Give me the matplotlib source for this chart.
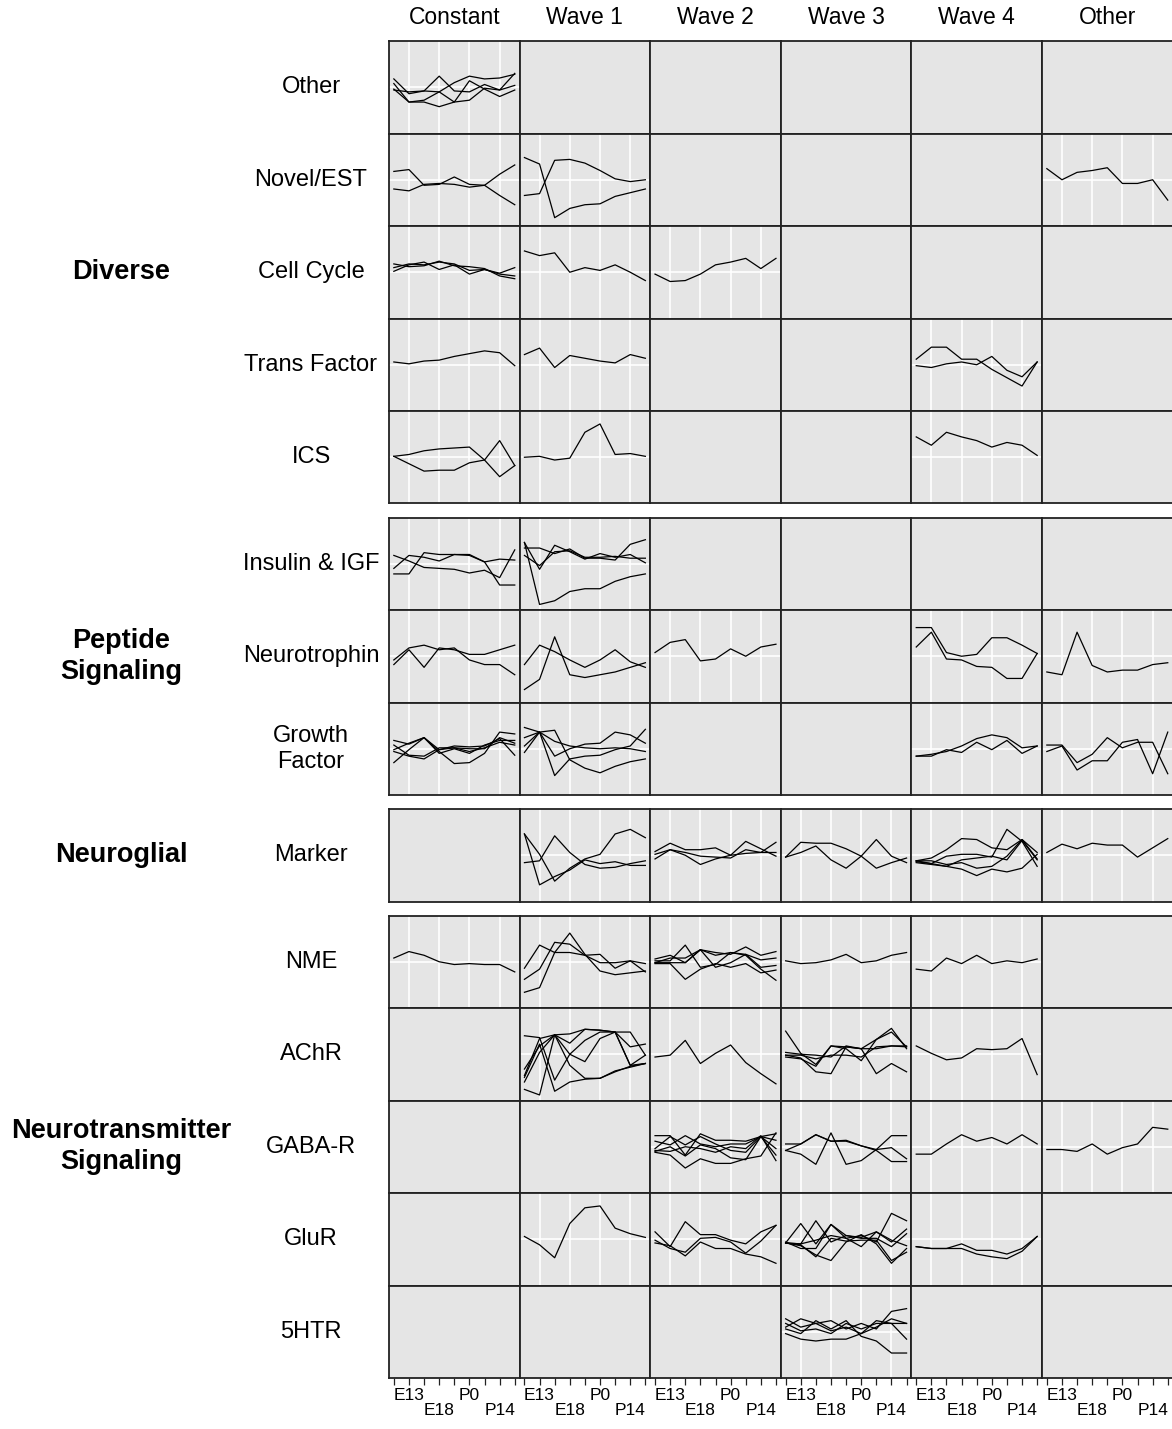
import matplotlib.pyplot as plt

plt.rcParams['font.family'] = ['Liberation Sans', 'DejaVu Sans']

# time course and layout labels
time_points = ['E11', 'E13', 'E15', 'E18', 'E21', 'P0', 'P7', 'P14', 'A']
shown_labels = ['', 'E13', '', 'E18', '', 'P0', '', 'P14', '']
waves = ['Constant', 'Wave 1', 'Wave 2', 'Wave 3', 'Wave 4', 'Other']
groups = ['Diverse', 'Peptide\nSignaling', 'Neuroglial', 'Neurotransmitter\nSignaling']
families = [['Other', 'Novel/EST', 'Cell Cycle', 'Trans Factor', 'ICS'],
            ['Insulin & IGF', 'Neurotrophin', 'Growth\nFactor'],
            ['Marker'],
            ['NME', 'AChR', 'GABA-R', 'GluR', '5HTR']]

# normalised expression profiles, one list per gene
oth_constant = [[0.59, 0.43, 0.46, 0.62, 0.46, 0.45, 0.53, 0.47, 0.65],
                [0.48, 0.34, 0.36, 0.45, 0.34, 0.57, 0.48, 0.40, 0.47],
                [0.54, 0.34, 0.34, 0.29, 0.34, 0.36, 0.49, 0.47, 0.52],
                [0.47, 0.45, 0.46, 0.45, 0.55, 0.62, 0.59, 0.60, 0.64]]

novel_constant = [[0.59, 0.61, 0.44, 0.45, 0.53, 0.45, 0.44, 0.56, 0.66],
                  [0.40, 0.38, 0.45, 0.46, 0.45, 0.42, 0.44, 0.33, 0.23]]
novel_wave1 = [[0.74, 0.67, 0.09, 0.19, 0.23, 0.24, 0.32, 0.36, 0.40],
               [0.33, 0.35, 0.71, 0.72, 0.68, 0.60, 0.51, 0.48, 0.50]]
novel_other = [[0.62, 0.50, 0.58, 0.60, 0.63, 0.46, 0.46, 0.50, 0.28]]

cycle_constant = [[0.59, 0.56, 0.57, 0.62, 0.57, 0.56, 0.54, 0.46, 0.43],
                  [0.51, 0.58, 0.61, 0.53, 0.58, 0.48, 0.53, 0.49, 0.55],
                  [0.55, 0.59, 0.58, 0.61, 0.59, 0.52, 0.53, 0.48, 0.46]]
cycle_wave1 = [[0.73, 0.68, 0.71, 0.50, 0.55, 0.52, 0.58, 0.50, 0.41]]
cycle_wave2 = [[0.48, 0.40, 0.41, 0.48, 0.58, 0.61, 0.65, 0.54, 0.65]]

trans_constant = [[0.53, 0.51, 0.54, 0.55, 0.59, 0.62, 0.65, 0.63, 0.49]]
trans_wave1 = [[0.61, 0.68, 0.47, 0.60, 0.57, 0.54, 0.52, 0.61, 0.57]]
trans_wave4 = [[0.56, 0.69, 0.69, 0.56, 0.56, 0.45, 0.36, 0.27, 0.53],
               [0.49, 0.47, 0.51, 0.53, 0.50, 0.59, 0.44, 0.37, 0.53]]

ics_constant = [[0.51, 0.53, 0.57, 0.59, 0.60, 0.61, 0.47, 0.68, 0.41],
                [0.51, 0.43, 0.35, 0.36, 0.36, 0.44, 0.47, 0.29, 0.41]]
ics_wave1 = [[0.50, 0.51, 0.47, 0.49, 0.77, 0.86, 0.53, 0.54, 0.51]]
ics_wave4 = [[0.72, 0.63, 0.77, 0.72, 0.68, 0.61, 0.66, 0.63, 0.52]]

insulin_constant = [[0.59, 0.53, 0.46, 0.45, 0.44, 0.40, 0.43, 0.35, 0.65],
                    [0.45, 0.59, 0.57, 0.53, 0.60, 0.60, 0.52, 0.27, 0.27],
                    [0.39, 0.39, 0.62, 0.60, 0.60, 0.59, 0.52, 0.55, 0.54]]
insulin_wave1 = [[0.73, 0.06, 0.10, 0.20, 0.23, 0.23, 0.31, 0.36, 0.39],
                 [0.67, 0.67, 0.61, 0.66, 0.56, 0.56, 0.54, 0.71, 0.76],
                 [0.73, 0.44, 0.70, 0.63, 0.55, 0.61, 0.57, 0.60, 0.51],
                 [0.59, 0.48, 0.63, 0.64, 0.57, 0.57, 0.58, 0.56, 0.56]]

neurotrophin_constant = [[0.41, 0.57, 0.38, 0.59, 0.57, 0.52, 0.52, 0.57, 0.62],
                         [0.46, 0.59, 0.62, 0.57, 0.59, 0.46, 0.41, 0.41, 0.30]]
neurotrophin_wave1 = [[0.41, 0.62, 0.55, 0.46, 0.38, 0.46, 0.57, 0.44, 0.38],
                      [0.14, 0.25, 0.71, 0.30, 0.27, 0.30, 0.33, 0.38, 0.43]]
neurotrophin_wave2 = [[0.54, 0.65, 0.68, 0.45, 0.47, 0.58, 0.50, 0.60, 0.63]]
neurotrophin_wave4 = [[0.81, 0.81, 0.54, 0.50, 0.52, 0.70, 0.70, 0.62, 0.53],
                      [0.60, 0.76, 0.47, 0.46, 0.39, 0.38, 0.26, 0.26, 0.53]]
neurotrophin_other = [[0.33, 0.30, 0.76, 0.40, 0.33, 0.35, 0.35, 0.41, 0.43]]

growth_constant = [[0.59, 0.55, 0.62, 0.47, 0.34, 0.35, 0.45, 0.68, 0.66],
                   [0.49, 0.56, 0.62, 0.49, 0.53, 0.52, 0.53, 0.61, 0.43],
                   [0.35, 0.49, 0.62, 0.45, 0.50, 0.45, 0.54, 0.59, 0.59],
                   [0.47, 0.42, 0.39, 0.49, 0.51, 0.47, 0.51, 0.57, 0.54],
                   [0.54, 0.43, 0.42, 0.51, 0.51, 0.50, 0.50, 0.62, 0.56]]
growth_wave1 = [[0.73, 0.68, 0.70, 0.38, 0.29, 0.24, 0.31, 0.36, 0.39],
                [0.62, 0.68, 0.42, 0.50, 0.55, 0.56, 0.68, 0.65, 0.56],
                [0.46, 0.68, 0.21, 0.39, 0.42, 0.43, 0.49, 0.53, 0.71],
                [0.53, 0.68, 0.58, 0.53, 0.51, 0.50, 0.51, 0.50, 0.47]]
growth_wave4 = [[0.42, 0.42, 0.49, 0.46, 0.57, 0.49, 0.59, 0.45, 0.53],
                [0.42, 0.44, 0.47, 0.53, 0.61, 0.65, 0.62, 0.51, 0.53]]
growth_other = [[0.54, 0.54, 0.35, 0.44, 0.62, 0.51, 0.57, 0.57, 0.23],
                [0.47, 0.53, 0.27, 0.37, 0.37, 0.57, 0.60, 0.23, 0.68]]

marker_wave1 = [[0.73, 0.51, 0.22, 0.36, 0.46, 0.51, 0.73, 0.78, 0.69],
                [0.42, 0.44, 0.71, 0.53, 0.40, 0.36, 0.37, 0.41, 0.44],
                [0.73, 0.18, 0.27, 0.34, 0.45, 0.41, 0.43, 0.39, 0.39]]
marker_wave2 = [[0.54, 0.63, 0.56, 0.56, 0.58, 0.50, 0.65, 0.57, 0.49],
                [0.46, 0.56, 0.50, 0.40, 0.46, 0.50, 0.52, 0.53, 0.64],
                [0.51, 0.56, 0.53, 0.49, 0.48, 0.47, 0.56, 0.53, 0.53]]
marker_wave3 = [[0.48, 0.64, 0.63, 0.63, 0.57, 0.49, 0.67, 0.49, 0.42],
                [0.48, 0.53, 0.60, 0.45, 0.36, 0.49, 0.36, 0.42, 0.47]]
marker_wave4 = [[0.44, 0.47, 0.56, 0.68, 0.67, 0.58, 0.56, 0.67, 0.46],
                [0.44, 0.41, 0.38, 0.35, 0.28, 0.35, 0.32, 0.36, 0.51],
                [0.43, 0.41, 0.49, 0.51, 0.51, 0.48, 0.78, 0.65, 0.38],
                [0.44, 0.44, 0.40, 0.42, 0.36, 0.38, 0.49, 0.67, 0.53],
                [0.42, 0.40, 0.38, 0.45, 0.47, 0.49, 0.45, 0.66, 0.45]]
marker_other = [[0.53, 0.62, 0.57, 0.63, 0.61, 0.61, 0.48, 0.58, 0.68]]

nme_constant = [[0.54, 0.61, 0.57, 0.50, 0.47, 0.48, 0.47, 0.47, 0.39]]
nme_wave1 = [[0.43, 0.68, 0.60, 0.60, 0.57, 0.49, 0.49, 0.51, 0.48],
             [0.31, 0.42, 0.71, 0.69, 0.57, 0.58, 0.43, 0.51, 0.39],
             [0.17, 0.22, 0.60, 0.81, 0.58, 0.40, 0.36, 0.38, 0.40]]
nme_wave2 = [[0.53, 0.57, 0.49, 0.63, 0.60, 0.58, 0.66, 0.57, 0.61],
             [0.51, 0.51, 0.68, 0.44, 0.47, 0.60, 0.58, 0.52, 0.54],
             [0.49, 0.49, 0.49, 0.63, 0.44, 0.49, 0.58, 0.44, 0.46],
             [0.48, 0.48, 0.31, 0.42, 0.48, 0.44, 0.48, 0.38, 0.41],
             [0.49, 0.54, 0.54, 0.63, 0.57, 0.60, 0.57, 0.42, 0.30]]
nme_wave3 = [[0.51, 0.48, 0.49, 0.52, 0.58, 0.49, 0.51, 0.57, 0.60]]
nme_wave4 = [[0.42, 0.40, 0.54, 0.48, 0.57, 0.48, 0.51, 0.49, 0.53]]

achr_wave1 = [[0.70, 0.68, 0.22, 0.50, 0.42, 0.67, 0.74, 0.38, 0.40],
              [0.34, 0.59, 0.71, 0.62, 0.77, 0.76, 0.74, 0.58, 0.61],
              [0.27, 0.67, 0.71, 0.72, 0.77, 0.76, 0.74, 0.74, 0.49],
              [0.20, 0.52, 0.71, 0.38, 0.24, 0.24, 0.32, 0.36, 0.40],
              [0.12, 0.06, 0.71, 0.50, 0.65, 0.74, 0.74, 0.38, 0.49],
              [0.25, 0.61, 0.10, 0.20, 0.23, 0.24, 0.31, 0.37, 0.40]]
achr_wave2 = [[0.47, 0.49, 0.65, 0.40, 0.51, 0.60, 0.41, 0.29, 0.18]]
achr_wave3 = [[0.75, 0.51, 0.39, 0.59, 0.58, 0.56, 0.66, 0.78, 0.56],
              [0.52, 0.50, 0.49, 0.47, 0.59, 0.56, 0.56, 0.59, 0.58],
              [0.49, 0.46, 0.31, 0.29, 0.58, 0.56, 0.29, 0.40, 0.31],
              [0.47, 0.45, 0.37, 0.59, 0.56, 0.43, 0.66, 0.74, 0.58],
              [0.49, 0.49, 0.45, 0.49, 0.49, 0.47, 0.58, 0.59, 0.59]]
achr_wave4 = [[0.59, 0.51, 0.44, 0.46, 0.56, 0.55, 0.56, 0.67, 0.28]]

gaba_wave2 = [[0.62, 0.62, 0.41, 0.64, 0.57, 0.57, 0.56, 0.61, 0.57],
              [0.56, 0.52, 0.62, 0.53, 0.50, 0.53, 0.53, 0.61, 0.48],
              [0.48, 0.61, 0.52, 0.61, 0.53, 0.46, 0.44, 0.61, 0.64],
              [0.46, 0.45, 0.50, 0.48, 0.44, 0.50, 0.48, 0.62, 0.35],
              [0.44, 0.41, 0.27, 0.37, 0.32, 0.32, 0.37, 0.40, 0.65],
              [0.45, 0.50, 0.40, 0.52, 0.48, 0.38, 0.36, 0.61, 0.41]]
gaba_wave3 = [[0.53, 0.53, 0.63, 0.56, 0.56, 0.51, 0.47, 0.49, 0.37],
              [0.46, 0.42, 0.31, 0.65, 0.31, 0.35, 0.47, 0.62, 0.62],
              [0.46, 0.53, 0.63, 0.56, 0.57, 0.51, 0.46, 0.34, 0.34]]
gaba_wave4 = [[0.42, 0.42, 0.53, 0.63, 0.56, 0.60, 0.53, 0.63, 0.53]]
gaba_other = [[0.47, 0.47, 0.45, 0.53, 0.42, 0.49, 0.53, 0.71, 0.69]]

glur_wave1 = [[0.53, 0.44, 0.30, 0.67, 0.84, 0.86, 0.62, 0.56, 0.52]]
glur_wave2 = [[0.58, 0.42, 0.69, 0.55, 0.55, 0.49, 0.45, 0.58, 0.65],
              [0.49, 0.40, 0.36, 0.51, 0.52, 0.47, 0.35, 0.48, 0.65],
              [0.46, 0.43, 0.32, 0.47, 0.40, 0.40, 0.34, 0.31, 0.24]]
glur_wave3 = [[0.46, 0.67, 0.45, 0.66, 0.51, 0.54, 0.47, 0.78, 0.70],
              [0.46, 0.45, 0.70, 0.47, 0.54, 0.51, 0.51, 0.42, 0.56],
              [0.46, 0.44, 0.31, 0.51, 0.48, 0.49, 0.49, 0.27, 0.36],
              [0.47, 0.40, 0.40, 0.66, 0.54, 0.52, 0.58, 0.47, 0.61],
              [0.46, 0.43, 0.33, 0.27, 0.47, 0.55, 0.45, 0.24, 0.40],
              [0.46, 0.45, 0.49, 0.54, 0.51, 0.42, 0.58, 0.49, 0.43]]
glur_wave4 = [[0.42, 0.40, 0.40, 0.45, 0.38, 0.38, 0.34, 0.40, 0.53],
              [0.42, 0.40, 0.40, 0.40, 0.34, 0.31, 0.29, 0.37, 0.53]]

htr_wave3 = [[0.64, 0.55, 0.59, 0.62, 0.53, 0.59, 0.53, 0.72, 0.75],
             [0.55, 0.64, 0.59, 0.51, 0.55, 0.48, 0.55, 0.64, 0.59],
             [0.53, 0.48, 0.62, 0.53, 0.62, 0.45, 0.40, 0.27, 0.27],
             [0.48, 0.42, 0.40, 0.42, 0.42, 0.48, 0.62, 0.59, 0.59],
             [0.59, 0.51, 0.53, 0.48, 0.59, 0.53, 0.59, 0.59, 0.42]]

profiles = {
    ('Other', 'Constant'): oth_constant,
    ('Novel/EST', 'Constant'): novel_constant,
    ('Novel/EST', 'Wave 1'): novel_wave1,
    ('Novel/EST', 'Other'): novel_other,
    ('Cell Cycle', 'Constant'): cycle_constant,
    ('Cell Cycle', 'Wave 1'): cycle_wave1,
    ('Cell Cycle', 'Wave 2'): cycle_wave2,
    ('Trans Factor', 'Constant'): trans_constant,
    ('Trans Factor', 'Wave 1'): trans_wave1,
    ('Trans Factor', 'Wave 4'): trans_wave4,
    ('ICS', 'Constant'): ics_constant,
    ('ICS', 'Wave 1'): ics_wave1,
    ('ICS', 'Wave 4'): ics_wave4,
    ('Insulin & IGF', 'Constant'): insulin_constant,
    ('Insulin & IGF', 'Wave 1'): insulin_wave1,
    ('Neurotrophin', 'Constant'): neurotrophin_constant,
    ('Neurotrophin', 'Wave 1'): neurotrophin_wave1,
    ('Neurotrophin', 'Wave 2'): neurotrophin_wave2,
    ('Neurotrophin', 'Wave 4'): neurotrophin_wave4,
    ('Neurotrophin', 'Other'): neurotrophin_other,
    ('Growth\nFactor', 'Constant'): growth_constant,
    ('Growth\nFactor', 'Wave 1'): growth_wave1,
    ('Growth\nFactor', 'Wave 4'): growth_wave4,
    ('Growth\nFactor', 'Other'): growth_other,
    ('Marker', 'Wave 1'): marker_wave1,
    ('Marker', 'Wave 2'): marker_wave2,
    ('Marker', 'Wave 3'): marker_wave3,
    ('Marker', 'Wave 4'): marker_wave4,
    ('Marker', 'Other'): marker_other,
    ('NME', 'Constant'): nme_constant,
    ('NME', 'Wave 1'): nme_wave1,
    ('NME', 'Wave 2'): nme_wave2,
    ('NME', 'Wave 3'): nme_wave3,
    ('NME', 'Wave 4'): nme_wave4,
    ('AChR', 'Wave 1'): achr_wave1,
    ('AChR', 'Wave 2'): achr_wave2,
    ('AChR', 'Wave 3'): achr_wave3,
    ('AChR', 'Wave 4'): achr_wave4,
    ('GABA-R', 'Wave 2'): gaba_wave2,
    ('GABA-R', 'Wave 3'): gaba_wave3,
    ('GABA-R', 'Wave 4'): gaba_wave4,
    ('GABA-R', 'Other'): gaba_other,
    ('GluR', 'Wave 1'): glur_wave1,
    ('GluR', 'Wave 2'): glur_wave2,
    ('GluR', 'Wave 3'): glur_wave3,
    ('GluR', 'Wave 4'): glur_wave4,
    ('5HTR', 'Wave 3'): htr_wave3,
}

# figure geometry in pixels
W, H = 1172, 1429
left, col_w = 389, 130.6
top, row_h, gap = 41, 92.5, 14

fig = plt.figure(figsize=(W / 100, H / 100), dpi=100)


def rect(x, y, w, h):
    return [x / W, 1 - (y + h) / H, w / W, h / H]


xs = list(range(1, len(time_points) + 1))
n_rows = sum(len(f) for f in families)
row_i = 0
y = top
for g, fams in zip(groups, families):
    g_top = y
    for fam in fams:
        fig.text(311 / W, 1 - (y + row_h / 2) / H, fam, ha='center', va='center',
                 fontsize=17, linespacing=1.25)
        for c, wave in enumerate(waves):
            ax = fig.add_axes(rect(left + c * col_w, y, col_w, row_h))
            ax.set_facecolor('#E5E5E5')
            ax.set_xlim(0.68, 9.32)
            ax.set_ylim(0, 1)
            lines = profiles.get((fam, wave), [])
            if lines:
                for gx in (2, 4, 6, 8):
                    ax.axvline(gx, color='white', lw=1.2, zorder=1)
                ax.axhline(0.5, color='white', lw=1.2, zorder=1)
                for prof in lines:
                    ax.plot(xs, prof, color='black', lw=0.9, zorder=2)
            for sp in ax.spines.values():
                sp.set_color('#222222')
                sp.set_linewidth(1.3)
            ax.set_yticks([])
            if row_i == n_rows - 1:
                ax.set_xticks(xs)
                ax.set_xticklabels(shown_labels)
                ax.tick_params(axis='x', length=5, width=0.9, color='#222222',
                               labelsize=12.5, pad=2)
                for k, tk in enumerate(ax.xaxis.get_major_ticks()):
                    if k in (3, 7):
                        tk.set_pad(13)
            else:
                ax.set_xticks([])
        y += row_h
        row_i += 1
    fig.text(121 / W, 1 - ((g_top + y) / 2) / H, g, ha='center', va='center',
             fontsize=19.5, fontweight='bold', linespacing=1.25)
    y += gap

for c, wave in enumerate(waves):
    fig.text((left + (c + 0.5) * col_w) / W, 1 - 18 / H, wave, ha='center', va='center',
             fontsize=16.5)

fig.savefig('out.png', dpi=100)
